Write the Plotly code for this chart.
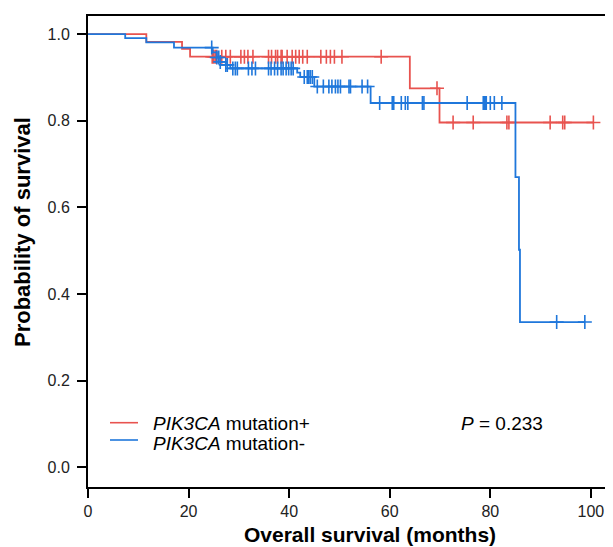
import plotly.graph_objects as go

# ---- data ----
pos_event_t = [0, 11.6, 18.7, 20.3, 64.0, 69.9]
pos_surv = [1.0, 0.982, 0.966, 0.948, 0.875, 0.796]
pos_end_t = 100.5
pos_censor_t = [24.7, 25.0, 25.3, 25.6, 26.6, 27.4, 28.3, 30.4, 31.1, 31.8, 32.8,
                35.9, 36.5, 37.3, 37.7, 38.4, 38.6, 39.6, 40.6, 41.3, 42.0, 42.7,
                43.6, 46.3, 47.4, 48.2, 49.0, 50.5, 58.3, 69.4, 72.6, 76.6, 83.3,
                83.7, 91.9, 94.4, 94.8, 100.5]

neg_event_t = [0, 7.4, 11.6, 17.1, 24.8, 25.6, 26.3, 27.4, 28.3, 41.6, 42.2,
               45.0, 56.2, 85.0, 85.7, 85.9]
neg_surv = [1.0, 0.991, 0.981, 0.969, 0.958, 0.946, 0.936, 0.929, 0.921, 0.911,
            0.901, 0.879, 0.841, 0.670, 0.502, 0.335]
neg_end_t = 98.8
neg_censor_t = [24.6, 25.6, 26.0, 26.3, 27.4, 27.7, 28.8, 29.3, 29.7, 31.9, 32.6,
                33.3, 35.9, 36.4, 37.1, 37.7, 38.4, 38.8, 39.4, 39.9, 40.4, 40.8,
                43.0, 43.6, 43.9, 44.2, 44.6, 45.6, 46.8, 47.9, 48.5, 49.2, 49.7,
                50.2, 51.9, 52.2, 54.5, 55.6, 58.0, 60.5, 60.8, 62.3, 63.1, 63.6,
                66.5, 66.8, 75.4, 78.6, 78.8, 79.0, 79.2, 80.0, 80.8, 82.3, 93.2,
                98.8]

x_ticks = [0, 20, 40, 60, 80, 100]
y_ticks = [0.0, 0.2, 0.4, 0.6, 0.8, 1.0]

pos_name = "<i>PIK3CA</i> mutation+"
neg_name = "<i>PIK3CA</i> mutation-"
p_text = "<i>P</i> = 0.233"
x_title = "<b>Overall survival (months)</b>"
y_title = "<b>Probability of survival</b>"

RED = "#E8534F"
BLUE = "#1F77DB"
FONT = "Arial, 'Liberation Sans', sans-serif"

# page is drawn with an 8px body offset; plot area spans page x 88..612, y 16..487
OFF = 8
PL, PR, PT, PB = 88, 612, 16, 487
PW, PH = PR - PL, PB - PT


def px(xp):
    return (xp - PL) / PW


def py(yp):
    return (PB - yp) / PH


def step_value(ts, ss, t):
    v = ss[0]
    for ti, si in zip(ts, ss):
        if ti <= t:
            v = si
    return v


fig = go.Figure()
for ev, sv, end, cens, name, col in [
    (pos_event_t, pos_surv, pos_end_t, pos_censor_t, pos_name, RED),
    (neg_event_t, neg_surv, neg_end_t, neg_censor_t, neg_name, BLUE),
]:
    fig.add_trace(go.Scatter(
        x=ev + [end], y=sv + [sv[-1]], mode="lines", line_shape="hv",
        line=dict(color=col, width=1.8), name=name, showlegend=False))
    fig.add_trace(go.Scatter(
        x=cens, y=[step_value(ev, sv, t) for t in cens], mode="markers",
        marker=dict(symbol="cross-thin", size=10, color=col,
                    line=dict(color=col, width=1.6)),
        showlegend=False, hoverinfo="skip"))

# legend drawn in place (line samples + labels)
for name, col, yl, yt in [(pos_name, RED, 422.7, 423.5), (neg_name, BLUE, 440.0, 443.5)]:
    fig.add_shape(type="line", xref="paper", yref="paper", x0=px(110), x1=px(138),
                  y0=py(yl), y1=py(yl), line=dict(color=col, width=1.6))
    fig.add_annotation(x=px(151), y=py(yt), xref="paper", yref="paper", text=name,
                       showarrow=False, xanchor="left", yanchor="middle",
                       font=dict(size=19, color="black", family=FONT))

fig.add_annotation(x=px(501.5), y=py(423), xref="paper", yref="paper", text=p_text,
                   showarrow=False, font=dict(size=19, color="black", family=FONT),
                   xanchor="center", yanchor="middle")

# axis titles
fig.add_annotation(x=px(370), y=py(534.5), xref="paper", yref="paper",
                   text=x_title, showarrow=False,
                   font=dict(size=21, color="black", family=FONT),
                   xanchor="center", yanchor="middle")
fig.add_annotation(x=px(22), y=py(232), xref="paper", yref="paper",
                   text=y_title, showarrow=False, textangle=-90,
                   font=dict(size=22, color="black", family=FONT),
                   xanchor="center", yanchor="middle")

fig.add_shape(type="line", xref="paper", yref="paper", x0=1, x1=1, y0=0, y1=1,
              line=dict(color="#BBBBBB", width=1))

W, H = 613 - OFF, 547 - OFF
fig.update_layout(
    width=W, height=H,
    margin=dict(l=PL - OFF, r=W - (PR - OFF), t=PT - OFF, b=H - (PB - OFF),
                autoexpand=False),
    paper_bgcolor="white", plot_bgcolor="white",
    font=dict(family=FONT, color="black"),
    showlegend=False,
    xaxis=dict(range=[0, 104.2], tickvals=x_ticks, ticks="outside", ticklen=9,
               tickwidth=1.5, tickcolor="black", showline=True, linewidth=2,
               linecolor="black", mirror=True, showgrid=False, zeroline=False,
               tickfont=dict(size=16, color="#222222"), ticklabelstandoff=0,
               automargin=False),
    yaxis=dict(range=[-0.046, 1.042], tickvals=y_ticks, tickformat=".1f",
               ticks="outside", ticklen=9, tickwidth=1.5, tickcolor="black",
               showline=True, linewidth=2, linecolor="black", showgrid=False,
               zeroline=False, tickfont=dict(size=16, color="#222222"),
               ticklabelstandoff=4, automargin=False),
)

fig.write_html("out.html")
